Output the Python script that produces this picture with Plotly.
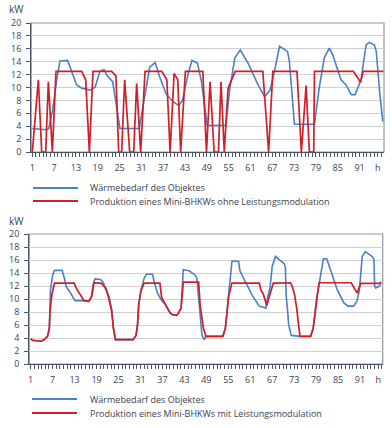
import plotly.graph_objects as go

# ---------------- data ----------------
# Top chart: heat demand (hours) and CHP output without modulation
top_demand_h = [1, 3, 5, 5.5, 6.6, 7.7, 8.6, 10.7, 11.8, 13.2, 14.6, 16.9, 18.3, 19.6, 20.7, 21.6, 23.1,
                25.1, 30.4, 32.4, 33.3, 34.8, 36.0, 37.8, 39.7, 41.3, 42.3, 43.8, 44.9, 46.4, 47.5, 49.1,
                54.2, 55.3, 56.7, 58.2, 60.3, 63.1, 64.9, 66.4, 67.6, 69.0, 71.2, 71.7, 73.1, 78.6, 79.9,
                81.3, 82.7, 83.6, 85.9, 87.3, 88.7, 89.8, 91.4, 92.8, 93.7, 95.1, 95.6, 96.6, 97.4]
top_demand_kw = [3.65, 3.5, 3.45, 3.6, 6.5, 11.2, 14.1, 14.2, 12.4, 10.4, 9.9, 9.6, 10.1, 12.5, 12.8, 11.8, 10.9,
                 3.65, 3.65, 10.1, 13.2, 13.85, 11.7, 9.0, 7.8, 7.2, 8.0, 12.0, 14.2, 13.8, 11.0, 4.1,
                 4.1, 9.7, 14.6, 15.8, 13.8, 10.4, 8.6, 9.6, 12.5, 16.4, 15.6, 14.1, 4.3, 4.3, 9.9,
                 14.6, 16.1, 15.1, 11.2, 10.4, 8.9, 8.9, 11.2, 16.6, 17.0, 16.6, 15.6, 8.9, 4.7]

top_chp_h = [1, 2.66, 3.58, 4.68, 5.41, 6.51, 7.52, 14.58, 15.68, 16.69, 17.69, 22.83, 24.0, 24.75, 25.58,
             26.4, 27.78, 28.88, 29.7, 30.8, 32.0, 36.6, 38.0, 38.9, 40.0, 41.0, 41.8, 43.1, 47.9, 48.9,
             49.9, 51.0, 52.2, 52.9, 53.8, 54.85, 56.8, 64.4, 66.0, 67.15, 73.8, 75.0, 76.3, 77.2, 78.4,
             78.6, 89.3, 91.3, 92.0, 97.6]
top_chp_kw = [0, 11.2, 0, 0, 10.9, 0, 12.5, 12.5, 11.2, 0, 12.5, 12.5, 11.8, 0, 0,
              11.2, 0, 0, 10.6, 0, 12.5, 12.5, 11.2, 0, 12.2, 11.2, 0, 12.5, 12.5, 0,
              10.9, 0, 0, 10.9, 0, 9.9, 12.5, 12.5, 0, 12.5, 12.5, 0, 10.3, 0, 0,
              12.5, 12.5, 10.8, 12.5, 12.5]

# Bottom chart: heat demand and CHP output with modulation
bot_demand_h = [1, 1.5, 3.8, 4.7, 5.6, 6.1, 6.4, 7.0, 7.5, 9.6, 10.2, 10.7, 11.6, 12.6, 13.1, 15.5, 16.8,
                17.6, 18.1, 18.6, 20.1, 20.9, 21.3, 21.8, 22.5, 23.2, 23.6, 24.1, 29.0, 29.8, 30.2, 30.5,
                31.1, 32.0, 32.6, 34.3, 34.8, 35.7, 36.6, 37.7, 39.1, 39.7, 40.9, 41.4, 42.1, 42.7, 44.3,
                45.9, 46.4, 46.9, 47.3, 47.8, 48.4, 48.9, 53.5, 54.2, 54.6, 55.1, 55.5, 56.0, 57.8, 58.2,
                59.8, 61.7, 63.5, 65.3, 65.6, 66.4, 67.0, 67.9, 68.9, 70.2, 70.6, 70.8, 71.3, 71.5, 72.2,
                74.6, 77.5, 78.2, 78.6, 79.1, 79.8, 81.0, 81.9, 83.0, 84.8, 86.6, 87.7, 89.2, 90.1, 90.8,
                91.6, 92.5, 93.7, 94.3, 94.8, 95.0, 95.3, 96.2, 96.8]
bot_demand_kw = [3.9, 3.65, 3.5, 3.75, 4.25, 5.5, 11.4, 13.7, 14.4, 14.4, 13.2, 11.9, 11.2, 10.1, 9.75, 9.75, 9.6,
                 10.4, 12.3, 13.1, 13.0, 12.5, 11.7, 11.3, 10.2, 8.2, 5.5, 3.75, 3.75, 4.4, 6.05, 9.0,
                 11.3, 13.2, 13.8, 13.8, 12.5, 10.9, 9.9, 9.2, 7.85, 7.6, 7.5, 7.85, 8.6, 14.5, 14.35,
                 13.7, 13.2, 10.15, 7.1, 4.5, 3.75, 4.25, 4.25, 5.5, 7.85, 10.4, 13.0, 15.8, 15.8, 14.3,
                 12.5, 10.4, 8.9, 8.6, 9.9, 11.7, 15.0, 16.55, 16.05, 15.5, 15.0, 10.7, 7.6, 6.05, 4.4,
                 4.25, 4.25, 5.5, 7.3, 9.9, 12.2, 16.2, 16.2, 14.3, 11.4, 9.4, 8.9, 8.9, 9.6, 11.2,
                 16.55, 17.3, 16.8, 16.55, 16.05, 11.95, 11.7, 11.95, 12.45]

bot_chp_h = [1, 1.5, 3.8, 4.7, 5.6, 6.1, 6.3, 6.8, 7.5, 12.9, 13.4, 14.3, 15.0, 15.6, 17.0, 17.7, 18.3, 20.3,
             21.5, 22.3, 23.1, 23.6, 24.2, 29.0, 29.8, 30.2, 30.5, 31.1, 32.0, 36.3, 36.8, 37.7, 39.1, 39.7,
             40.9, 41.4, 42.1, 42.7, 46.9, 47.3, 47.8, 48.2, 48.9, 53.5, 54.2, 54.6, 55.1, 56.0, 63.5, 63.9,
             64.6, 65.5, 66.4, 67.3, 72.0, 72.5, 73.1, 73.7, 74.2, 74.6, 77.5, 78.2, 78.6, 79.1, 79.8, 88.6,
             89.3, 90.2, 91.2, 96.2, 96.8]
bot_chp_kw = [3.9, 3.65, 3.5, 3.75, 4.25, 5.5, 8.4, 10.7, 12.45, 12.45, 11.7, 10.9, 10.15, 9.7, 9.7, 10.4, 12.5, 12.4,
              11.7, 10.2, 8.2, 5.5, 3.75, 3.75, 4.4, 6.05, 9.0, 11.2, 12.45, 12.45, 10.2, 9.2, 7.85, 7.6,
              7.5, 7.85, 8.6, 12.6, 12.6, 9.1, 7.1, 5.5, 4.25, 4.25, 5.5, 7.85, 10.4, 12.45, 12.45, 11.4,
              10.7, 9.0, 10.7, 12.45, 12.5, 11.9, 10.7, 8.6, 6.05, 4.25, 4.25, 5.5, 7.3, 9.9, 12.5, 12.5,
              11.7, 10.9, 12.4, 12.4, 12.6]

x_tick_vals = [1, 7, 13, 19, 25, 31, 37, 43, 49, 55, 61, 67, 73, 79, 85, 91, 96]
x_tick_text = ["1", "7", "13", "19", "25", "31", "37", "43", "49", "55", "61", "67", "73", "79", "85", "91", "h"]
y_tick_vals = [0, 2, 4, 6, 8, 10, 12, 14, 16, 18, 20]

legend_demand = "Wärmebedarf des Objektes"
legend_top_chp = "Produktion eines Mini-BHKWs ohne Leistungsmodulation"
legend_bot_chp = "Produktion eines Mini-BHKWs mit Leistungsmodulation"

# ---------------- style ----------------
W, H = 392, 428
BLUE = "#4d7fc6"
RED = "#d11f27"
TXT = "#3a4150"
GRID = "#cfd0d2"
FRAME = "#8e98a3"
AXIS = "#4a5566"
FONT = "Open Sans"

def px_x(p):
    return p / W

def px_y(p):
    return 1 - p / H

fig = go.Figure()

fig.add_trace(go.Scatter(x=top_demand_h, y=top_demand_kw, mode="lines", line=dict(color=BLUE, width=1.6),
                         xaxis="x", yaxis="y", showlegend=False, hoverinfo="skip"))
fig.add_trace(go.Scatter(x=top_chp_h, y=top_chp_kw, mode="lines", line=dict(color=RED, width=1.7),
                         xaxis="x", yaxis="y", showlegend=False, hoverinfo="skip"))
fig.add_trace(go.Scatter(x=bot_demand_h, y=bot_demand_kw, mode="lines", line=dict(color=BLUE, width=1.6),
                         xaxis="x2", yaxis="y2", showlegend=False, hoverinfo="skip"))
fig.add_trace(go.Scatter(x=bot_chp_h, y=bot_chp_kw, mode="lines", line=dict(color=RED, width=1.7),
                         xaxis="x2", yaxis="y2", showlegend=False, hoverinfo="skip"))

def xax(domain, rng, anchor):
    return dict(domain=domain, range=rng, anchor=anchor, automargin=False, tickmode="array",
                tickvals=x_tick_vals, ticktext=x_tick_text, ticks="outside", ticklen=4,
                tickcolor=AXIS, tickwidth=1,
                minor=dict(tickmode="linear", tick0=1, dtick=1, ticks="outside", ticklen=4,
                           tickcolor=AXIS, tickwidth=1, showgrid=False),
                showgrid=False, zeroline=False, showline=True, linecolor=AXIS, linewidth=1.2,
                tickfont=dict(family=FONT, size=9, color=TXT), ticklabelstandoff=3, fixedrange=True)

def yax(domain, anchor):
    return dict(domain=domain, range=[0, 20], anchor=anchor, automargin=False, tickmode="array",
                tickvals=y_tick_vals, ticks="outside", ticklen=4, tickcolor=AXIS, tickwidth=1,
                showgrid=True, gridcolor=GRID, gridwidth=1, zeroline=False, showline=True,
                linecolor=AXIS, linewidth=1.2, tickfont=dict(family=FONT, size=9, color=TXT),
                ticklabelstandoff=3, fixedrange=True)

fig.update_layout(
    width=W, height=H, margin=dict(l=0, r=0, t=0, b=0, autoexpand=False),
    paper_bgcolor="white", plot_bgcolor="white", showlegend=False, hovermode=False,
    xaxis=xax([px_x(31.3), px_x(384)], [0.72, 97.73], "y"),
    yaxis=yax([px_y(152), px_y(23)], "x"),
    xaxis2=xax([px_x(29.3), px_x(382.7)], [0.62, 97.2], "y2"),
    yaxis2=yax([px_y(364), px_y(234)], "x2"),
)

shapes = []
for xr, yr in (("x domain", "y domain"), ("x2 domain", "y2 domain")):
    shapes.append(dict(type="rect", xref=xr, yref=yr, x0=0, x1=1, y0=0, y1=1,
                       line=dict(color=FRAME, width=1.2), fillcolor="rgba(0,0,0,0)", layer="below"))

annotations = []
def label(x, y, text, size=9, xanchor="left"):
    annotations.append(dict(xref="paper", yref="paper", x=px_x(x), y=px_y(y), text=text, showarrow=False,
                            xanchor=xanchor, yanchor="middle", font=dict(family=FONT, size=size, color=TXT)))

def legend_line(x0, x1, y, color):
    shapes.append(dict(type="line", xref="paper", yref="paper", x0=px_x(x0), x1=px_x(x1),
                       y0=px_y(y), y1=px_y(y), line=dict(color=color, width=1.8)))

label(7, 9.5, "kW", size=10)
label(7, 220.5, "kW", size=10)

legend_line(33, 78, 188, BLUE)
legend_line(33, 78, 201, RED)
label(88, 188, legend_demand)
label(88, 201, legend_top_chp)

legend_line(32, 77, 399, BLUE)
legend_line(32, 77, 413, RED)
label(88, 399, legend_demand)
label(88, 413, legend_bot_chp)

fig.update_layout(shapes=shapes, annotations=annotations)

fig.write_html("out.html", config={"displayModeBar": False, "staticPlot": True},
               post_script="document.body.style.margin='0';document.body.style.overflow='hidden';")
